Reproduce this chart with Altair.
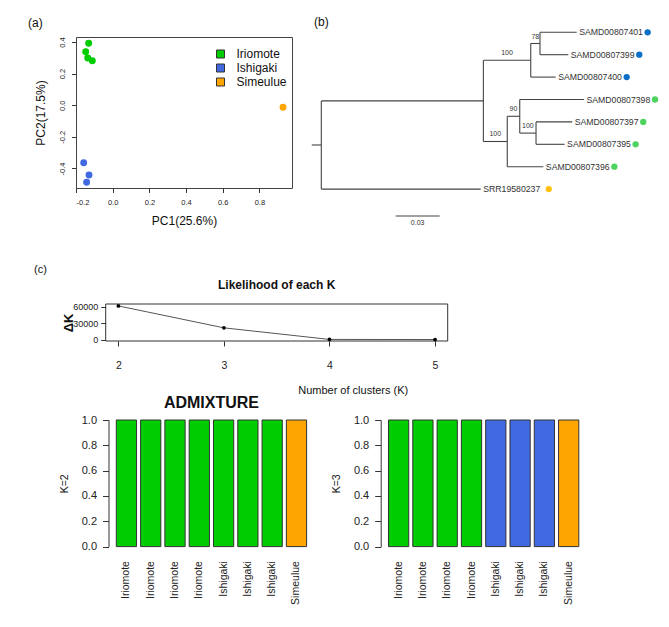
import json
import altair as alt
import pandas as pd

FONT = "Liberation Sans, Arial, sans-serif"
NARROW = "Liberation Sans Narrow, Liberation Sans, Arial, sans-serif"

# ---------------- (a) PCA ----------------
pca_pop = ["Iriomote"] * 4 + ["Ishigaki"] * 3 + ["Simeulue"]
pc1 = [-0.131, -0.147, -0.136, -0.111, -0.158, -0.129, -0.142, 0.929]
pc2 = [0.392, 0.339, 0.299, 0.282, -0.364, -0.442, -0.488, -0.013]
pops = ["Iriomote", "Ishigaki", "Simeulue"]
pop_colors = ["#00CD00", "#4169E1", "#FFA500"]
pc_ticks = [-0.2, 0.0, 0.2, 0.4, 0.6, 0.8]
pc2_ticks = [-0.4, -0.2, 0.0, 0.2, 0.4]

# ---------------- (b) tree ----------------
tip_names = ["SAMD00807401", "SAMD00807399", "SAMD00807400", "SAMD00807398",
             "SAMD00807397", "SAMD00807395", "SAMD00807396", "SRR19580237"]
tip_pop = ["Ishigaki"] * 3 + ["Iriomote"] * 4 + ["Simeulue"]
tip_depth = [0.1741, 0.1684, 0.1598, 0.1791, 0.1711, 0.1659, 0.1514, 0.1087]
tip_parent = ["C", "C", "B", "E", "F", "F", "D", "root"]
node_names = ["root", "A", "B", "C", "D", "E", "F"]
node_depth = [0.0, 0.1105, 0.1428, 0.1491, 0.1268, 0.1353, 0.1464]
node_parent = ["", "root", "A", "B", "A", "D", "E"]
node_support = [None, None, 100, 78, 100, 90, 100]
tree_colors = ["#4ED45E", "#0B6FC8", "#FFC20E"]
root_edge = 0.0065
scale_bar_start = 0.0507
scale_bar_len = 0.03

# ---------------- (c) Delta K ----------------
k_vals = [2, 3, 4, 5]
delta_k = [61500, 21500, 400, 150]
k_domain = [1.88, 5.12]
dk_domain = [-2500, 65000]
dk_ticks = [0, 30000, 60000]

# ---------------- ADMIXTURE ----------------
bar_labels = ["Iriomote"] * 4 + ["Ishigaki"] * 3 + ["Simeulue"]
k2_q = [[1, 1, 1, 1, 1, 1, 1, 0], [0, 0, 0, 0, 0, 0, 0, 1]]
k2_colors = ["#00CD00", "#FFA500"]
k3_q = [[1, 1, 1, 1, 0, 0, 0, 0], [0, 0, 0, 0, 1, 1, 1, 0], [0, 0, 0, 0, 0, 0, 0, 1]]
k3_colors = ["#00CD00", "#4169E1", "#FFA500"]

COL0_W = 216

# ======================= panel (a) =======================
pca_df = pd.DataFrame({"PC1": pc1, "PC2": pc2, "pop": pca_pop})
minus_fix = "replace(format(datum.value, '.1f'), '\u2212', '-')"
pca = alt.Chart(pca_df).mark_circle(size=48, opacity=1).encode(
    x=alt.X("PC1:Q", scale=alt.Scale(domain=[-0.2, 0.978], nice=False, zero=False),
            axis=alt.Axis(values=pc_ticks, labelExpr=minus_fix, title="PC1(25.6%)",
                          domain=False, tickSize=4.5, labelFontSize=7.5, labelPadding=6,
                          labelOverlap=False,
                          titleFontSize=12, titleFontWeight="normal", titleX=108, titleY=32.7,
                          titleAlign="center", titleBaseline="middle")),
    y=alt.Y("PC2:Q", scale=alt.Scale(domain=[-0.524, 0.432], nice=False, zero=False),
            axis=alt.Axis(values=pc2_ticks, labelExpr=minus_fix, title="PC2(17.5%)",
                          domain=False, tickSize=4.5, labelFontSize=7.5, labelPadding=5,
                          labelOverlap=False,
                          labelAngle=-90, labelAlign="center", labelBaseline="bottom",
                          titleFontSize=12, titleFontWeight="normal", titleX=-35.3, titleY=75.5,
                          titleAlign="center", titleBaseline="middle")),
    color=alt.Color("pop:N", scale=alt.Scale(domain=pops, range=pop_colors),
                    legend=alt.Legend(title=None, orient="none", legendX=138.5, legendY=11,
                                      symbolType="square", symbolSize=64,
                                      symbolStrokeColor="#333", symbolStrokeWidth=1,
                                      labelFontSize=12, labelFont=FONT, labelColor="#111",
                                      labelOffset=10, rowPadding=2, padding=0)),
).properties(
    width=COL0_W, height=151,
    view=alt.ViewBackground(stroke="#444", strokeWidth=1),
    title=alt.TitleParams("(a)", anchor="start", dx=-48, offset=2, frame="group",
                          baseline="middle", fontSize=12, fontWeight="normal", font=FONT),
)

# ======================= panel (b) =======================
pos_y = {n: i + 1 for i, n in enumerate(tip_names)}
depth = dict(zip(tip_names, tip_depth))
depth.update(dict(zip(node_names, node_depth)))
parent = dict(zip(tip_names, tip_parent))
parent.update({n: p for n, p in zip(node_names, node_parent) if p})
children = {}
for c, p in parent.items():
    children.setdefault(p, []).append(c)


def node_y(n):
    if n in pos_y:
        return pos_y[n]
    v = sum(node_y(c) for c in children[n]) / len(children[n])
    pos_y[n] = v
    return v


node_y("root")
edges = []
for c, p in parent.items():
    edges.append({"x": depth[p], "x2": depth[c], "y": pos_y[c], "y2": pos_y[c]})
for n in node_names:
    ys = [pos_y[c] for c in children[n]]
    edges.append({"x": depth[n], "x2": depth[n], "y": min(ys), "y2": max(ys)})
edges.append({"x": -root_edge, "x2": 0.0, "y": pos_y["root"], "y2": pos_y["root"]})
edges_df = pd.DataFrame(edges)

tips_df = pd.DataFrame({"name": tip_names, "x": tip_depth,
                        "y": [pos_y[n] for n in tip_names], "tpop": tip_pop})
sup_df = pd.DataFrame([
    {"x": (depth[parent[n]] + depth[n]) / 2, "y": pos_y[n], "s": str(s)}
    for n, s in zip(node_names, node_support) if s is not None
])
bar_y = len(tip_names) + 1.2
sb_df = pd.DataFrame({"x": [scale_bar_start], "x2": [scale_bar_start + scale_bar_len],
                      "y": [bar_y], "lab": [f"{scale_bar_len:.2f}"],
                      "xm": [scale_bar_start + scale_bar_len / 2]})

tx = alt.Scale(domain=[-0.008386, 0.22616], nice=False, zero=False)
ty = alt.Scale(domain=[1.2098, 10.0045], nice=False, zero=False, reverse=True)
tcol = alt.Color("tpop:N", scale=alt.Scale(domain=pops, range=tree_colors), legend=None)

t_edges = alt.Chart(edges_df).mark_rule(color="#444", strokeWidth=1.1).encode(
    x=alt.X("x:Q", scale=tx, axis=None), x2="x2:Q",
    y=alt.Y("y:Q", scale=ty, axis=None), y2="y2:Q")
t_labels = alt.Chart(tips_df).mark_text(align="left", baseline="middle", dx=2.5,
                                        fontSize=8.7, font=FONT, color="#333").encode(
    x=alt.X("x:Q", scale=tx, axis=None), y=alt.Y("y:Q", scale=ty, axis=None), text="name:N")
t_dots1 = alt.Chart(tips_df).transform_filter("indexof(datum.name, 'SAMD') == 0").mark_circle(
    size=40, opacity=1, xOffset=71).encode(
    x=alt.X("x:Q", scale=tx, axis=None), y=alt.Y("y:Q", scale=ty, axis=None), color=tcol)
t_dots2 = alt.Chart(tips_df).transform_filter("indexof(datum.name, 'SAMD') != 0").mark_circle(
    size=40, opacity=1, xOffset=68).encode(
    x=alt.X("x:Q", scale=tx, axis=None), y=alt.Y("y:Q", scale=ty, axis=None), color=tcol)
t_sup = alt.Chart(sup_df).mark_text(baseline="middle", dy=-7, fontSize=7, font=FONT,
                                    color="#333").encode(
    x=alt.X("x:Q", scale=tx, axis=None), y=alt.Y("y:Q", scale=ty, axis=None), text="s:N")
t_bar = alt.Chart(sb_df).mark_rule(color="#444", strokeWidth=1.2).encode(
    x=alt.X("x:Q", scale=tx, axis=None), x2="x2:Q", y=alt.Y("y:Q", scale=ty, axis=None))
t_barlab = alt.Chart(sb_df).mark_text(baseline="middle", dy=7, fontSize=7, font=FONT,
                                      color="#333").encode(
    x=alt.X("xm:Q", scale=tx, axis=None), y=alt.Y("y:Q", scale=ty, axis=None), text="lab:N")

tree = alt.layer(t_edges, t_labels, t_dots1, t_dots2, t_sup, t_bar, t_barlab).properties(
    width=344, height=197,
    title=alt.TitleParams("(b)", anchor="start", dx=5, offset=-5.7, frame="group",
                          baseline="middle", fontSize=12, fontWeight="normal", font=FONT),
)

# ======================= panel (c) line =======================
C_LEFT = 29.7
C_W = 342
dk_df = pd.DataFrame({"K": k_vals, "dK": delta_k})
kscale = alt.Scale(domain=k_domain, range=[C_LEFT, C_LEFT + C_W], nice=False, zero=False)
dkscale = alt.Scale(domain=dk_domain, nice=False, zero=False)
k_axis = alt.Axis(values=k_vals, format="d", title="Number of clusters (K)",
                  domain=False, tickSize=5, labelFontSize=10.5, labelFont=NARROW,
                  labelPadding=14, labelOverlap=False,
                  titleFontSize=11, titleFontWeight="normal",
                  titleX=C_LEFT + 247, titleY=49.5, titleAlign="center",
                  titleBaseline="middle")
dk_axis = alt.Axis(values=dk_ticks, format="d", title="ΔK", offset=-C_LEFT,
                   domain=False, tickSize=5, labelFontSize=9, labelFont=NARROW,
                   labelPadding=3, labelOverlap=False, labelFlush=False,
                   labelBaseline="middle",
                   titleFontSize=13, titleFontWeight="bold",
                   titleX=-37.7, titleY=18.5, titleAlign="center", titleBaseline="middle")
# box frame drawn from the scale domains
box_df = pd.DataFrame({"K": [k_domain[0]], "K2": [k_domain[1]],
                       "dK": [dk_domain[0]], "dK2": [dk_domain[1]]})
dk_box = alt.Chart(box_df).mark_rect(fillOpacity=0, stroke="#333", strokeWidth=1).encode(
    x=alt.X("K:Q", scale=kscale, axis=k_axis), x2="K2:Q",
    y=alt.Y("dK:Q", scale=dkscale, axis=dk_axis), y2="dK2:Q")
dk_line = alt.Chart(dk_df).mark_line(color="#555", strokeWidth=1).encode(
    x=alt.X("K:Q", scale=kscale, axis=k_axis), y=alt.Y("dK:Q", scale=dkscale, axis=dk_axis))
dk_pts = alt.Chart(dk_df).mark_circle(color="black", size=14, opacity=1).encode(
    x=alt.X("K:Q", scale=kscale, axis=k_axis), y=alt.Y("dK:Q", scale=dkscale, axis=dk_axis))
dk = alt.layer(dk_box, dk_line, dk_pts).properties(
    width=COL0_W, height=37,
    title=alt.TitleParams("Likelihood of each K", anchor="middle",
                          dx=C_LEFT + C_W / 2 - COL0_W / 2, offset=6, frame="group",
                          baseline="middle", fontSize=12, fontWeight="bold", font=NARROW),
)

c_blank = alt.Chart(pd.DataFrame({"v": [0]})).mark_point(opacity=0).properties(
    width=1, height=45.7,
    title=alt.TitleParams("(c)", anchor="start", dx=-275, offset=23, frame="group",
                          baseline="middle", fontSize=11, fontWeight="normal", font=NARROW),
)

# ======================= ADMIXTURE bars =======================
label_expr = json.dumps(bar_labels) + "[datum.value]"
BAR_W = 205.9


def admix_chart(q, colors, ylab, left, width, title=None, title_dx=0):
    rows = []
    for ci, col in enumerate(q):
        for si, v in enumerate(col):
            rows.append({"idx": si, "cluster": ci, "q": v})
    df = pd.DataFrame(rows)
    ch = alt.Chart(df).transform_filter("datum.q > 0").mark_bar(
        stroke="#333", strokeWidth=1).encode(
        x=alt.X("idx:O", scale=alt.Scale(range=[left, left + BAR_W], paddingInner=0.1667,
                                         paddingOuter=0.321),
                axis=alt.Axis(labelExpr=label_expr, labelAngle=-90, labelAlign="right",
                              labelBaseline="middle", labelPadding=14, ticks=False,
                              domain=False, title=None, labelFontSize=10.5)),
        y=alt.Y("q:Q", stack="zero", scale=alt.Scale(domain=[0, 1], nice=False),
                axis=alt.Axis(values=[0, 0.2, 0.4, 0.6, 0.8, 1.0], format=".1f", offset=-left,
                              tickSize=6, labelPadding=6, labelFontSize=11,
                              labelOverlap=False,
                              title=ylab, titleFontSize=10.5, titleFontWeight="normal",
                              titleX=-44.5, titleY=63.3, titleAlign="center",
                              titleBaseline="middle")),
        color=alt.Color("cluster:N", scale=alt.Scale(domain=list(range(len(q))), range=colors),
                        legend=None),
        order=alt.Order("cluster:Q"),
    )
    props = dict(width=width, height=126.6)
    if title:
        props["title"] = alt.TitleParams(title, anchor="middle", dx=title_dx,
                                         offset=-5, frame="group", baseline="middle",
                                         fontSize=16, fontWeight="bold", font=FONT)
    return ch.properties(**props)


adm2 = admix_chart(k2_q, k2_colors, "K=2", 32.5, COL0_W, "ADMIXTURE",
                   32.5 + BAR_W / 2 - COL0_W / 2)
adm3 = admix_chart(k3_q, k3_colors, "K=3", 71.7, 280)

chart = alt.concat(
    pca, tree,
    dk, c_blank,
    adm2, adm3,
    columns=2,
    spacing={"row": 70, "column": 17},
    bounds="flush",
    align="each",
).resolve_scale(color="independent").properties(
    padding={"left": 19, "top": 8, "right": 0, "bottom": 0},
).configure_view(stroke=None).configure_axis(
    grid=False, labelFont=FONT, titleFont=FONT, labelColor="#222", titleColor="#111",
    domainColor="#333", tickColor="#333",
).configure_title(color="#111")

chart.save("out.html", embed_options={"renderer": "svg", "actions": False})
